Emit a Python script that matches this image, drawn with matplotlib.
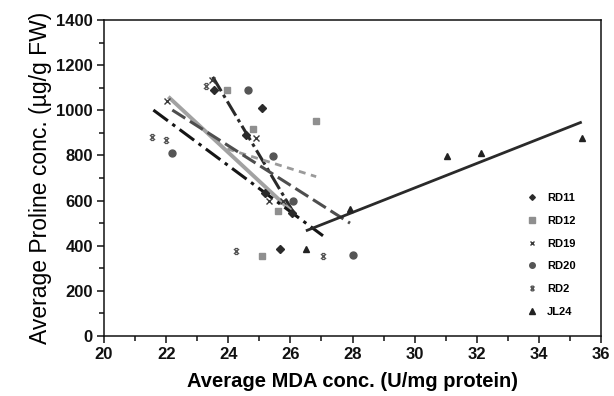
import matplotlib
matplotlib.use("Agg")
import matplotlib.pyplot as plt
from matplotlib.path import Path
from matplotlib.ticker import MultipleLocator
import numpy as np

plt.rcParams['font.family'] = ['Liberation Sans', 'DejaVu Sans']
plt.rcParams['lines.scale_dashes'] = False

# ---- data ----
series_names = ["RD11", "RD12", "RD19", "RD20", "RD2", "JL24"]

rd11_x = [23.54, 24.56, 25.08, 25.18, 25.65, 26.05]
rd11_y = [1090, 890, 1012, 635, 384, 545]
rd12_x = [23.97, 24.79, 25.10, 25.60, 26.83]
rd12_y = [1090, 916, 354, 552, 953]
rd19_x = [22.04, 23.49, 24.88, 25.31, 25.75]
rd19_y = [1041, 1134, 876, 598, 598]
rd20_x = [22.19, 24.62, 25.43, 26.07, 28.00]
rd20_y = [809, 1090, 799, 600, 360]
rd2_x = [21.56, 21.99, 23.27, 24.25, 27.05]
rd2_y = [883, 868, 1109, 378, 353]
jl24_x = [26.50, 27.92, 31.03, 32.15, 35.38]
jl24_y = [387, 564, 797, 809, 876]

# trend lines (start / end)
trend_x0 = [23.50, 23.97, 22.07, 22.20, 21.59, 26.50]
trend_x1 = [26.15, 26.83, 26.10, 27.92, 27.05, 35.38]
trend_y0 = [1148, 829, 1060, 1001, 1001, 466]
trend_y1 = [536, 706, 545, 500, 444, 948]

x_ticks = [20, 22, 24, 26, 28, 30, 32, 34, 36]
y_ticks = [0, 200, 400, 600, 800, 1000, 1200, 1400]

# ---- styles ----
# custom "x with bars" marker for RD2
verts = [(-1, -1), (1, 1), (-1, 1), (1, -1), (-0.6, 1.15), (0.6, 1.15), (-0.6, -1.15), (0.6, -1.15)]
codes = [Path.MOVETO, Path.LINETO] * 4
xbar_marker = Path(verts, codes)

pts_x = [rd11_x, rd12_x, rd19_x, rd20_x, rd2_x, jl24_x]
pts_y = [rd11_y, rd12_y, rd19_y, rd20_y, rd2_y, jl24_y]
markers = ['D', 's', 'x', 'o', xbar_marker, '^']
msizes = [3.6, 4.6, 4.2, 5.0, 4.2, 5.0]
mcolors = ['#2b2b2b', '#8f8f8f', '#3a3a3a', '#555555', '#555555', '#222222']
mfill = [True, True, False, True, False, True]

line_colors = ['#2a2a2a', '#9a9a9a', '#a2a2a2', '#4e4e4e', '#151515', '#2a2a2a']
line_widths = [2.2, 2.0, 2.8, 2.2, 2.2, 2.0]
line_dashes = [(12, 3, 2.5, 3), (5, 4), None, (11, 4), (13, 4, 2.5, 4), None]

fig = plt.figure(figsize=(6.14, 3.96), dpi=100)
ax = fig.add_axes([104/614, 60/396, 497/614, 316/396])

for i in range(6):
    kw = dict(color=line_colors[i], lw=line_widths[i], solid_capstyle='butt',
              dash_capstyle='butt', zorder=2)
    ln, = ax.plot([trend_x0[i], trend_x1[i]], [trend_y0[i], trend_y1[i]], **kw)
    if line_dashes[i] is not None:
        ln.set_dashes(line_dashes[i])

handles = []
for i in range(6):
    fc = mcolors[i] if mfill[i] else 'none'
    h, = ax.plot(pts_x[i], pts_y[i], linestyle='none', marker=markers[i],
                 markersize=msizes[i], markerfacecolor=fc,
                 markeredgecolor=mcolors[i], markeredgewidth=1.0,
                 label=series_names[i], zorder=3)
    handles.append(h)

ax.set_xlim(20, 36)
ax.set_ylim(0, 1400)
ax.set_xticks(x_ticks)
ax.set_yticks(y_ticks)
ax.xaxis.set_minor_locator(MultipleLocator(1))
ax.yaxis.set_minor_locator(MultipleLocator(100))
ax.tick_params(which='both', direction='out', top=False, right=False,
               width=1.1, colors='#111111')
ax.tick_params(which='major', length=5, labelsize=12, pad=3)
ax.tick_params(which='minor', length=3.5)
for lab in ax.get_xticklabels() + ax.get_yticklabels():
    lab.set_fontweight('bold')
for sp in ax.spines.values():
    sp.set_linewidth(1.1)
    sp.set_color('#111111')

ax.set_xlabel('Average MDA conc. (U/mg protein)', fontsize=14.5, fontweight='bold',
              labelpad=7)
ax.set_ylabel('Average Proline conc. (µg/g FW)', fontsize=16.5, fontweight='normal',
              labelpad=3)

leg = ax.legend(handles=handles, loc='upper left', bbox_to_anchor=(0.838, 0.47),
                frameon=False, prop={'weight': 'bold', 'size': 8},
                handlelength=1.0, handletextpad=0.9, labelspacing=1.15,
                borderpad=0, markerscale=0.8)

fig.savefig('out.png', dpi=100)
